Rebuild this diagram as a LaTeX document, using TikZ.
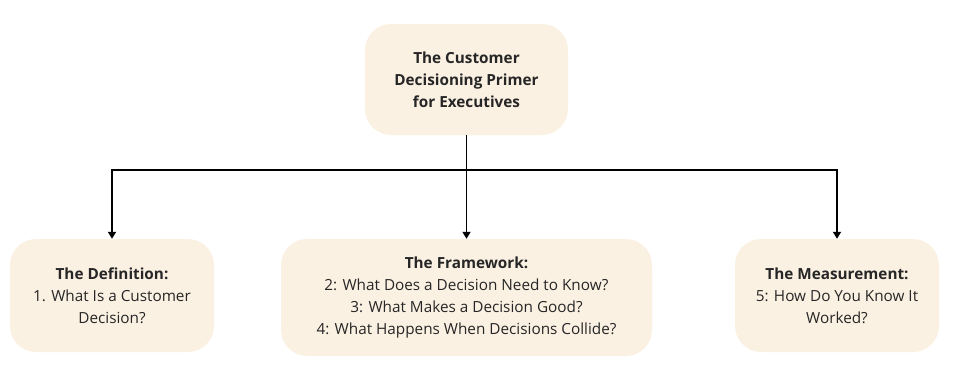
\documentclass[tikz,border=0pt]{standalone}
\usepackage{fontspec}
\setmainfont{Open Sans}
\usetikzlibrary{arrows.meta}
\definecolor{boxfill}{HTML}{FBF1E3}
\definecolor{txt}{HTML}{262626}
\begin{document}
\begin{tikzpicture}[x=1pt,y=-1pt,
  box/.style={draw=none,fill=boxfill,rounded corners=26pt,align=center,text=txt,font=\fontsize{15.3}{22}\selectfont,inner sep=0pt},
  conn/.style={line width=1.8pt,draw=black},
  arr/.style={conn,-{Triangle[length=7pt,width=8pt]}}]
\useasboundingbox (0,0) rectangle (953,370);
\node[box,minimum width=203pt,minimum height=111pt] (top) at (466.5,79.5) {\textbf{The Customer}\\\textbf{Decisioning Primer}\\\textbf{for Executives}};
\node[box,minimum width=204pt,minimum height=113pt] (def) at (112,295.5) {\textbf{The Definition:}\\1. What Is a Customer\\Decision?};
\node[box,minimum width=371pt,minimum height=117pt] (fw) at (466.5,297.5) {\textbf{The Framework:}\\2: What Does a Decision Need to Know?\\3: What Makes a Decision Good?\\4: What Happens When Decisions Collide?};
\node[box,minimum width=204pt,minimum height=113pt] (meas) at (837,295.5) {\textbf{The Measurement:}\\5: How Do You Know It\\Worked?};
\coordinate (hub) at (466.5,170);
\draw[conn] (top.south) -- (hub);
\draw[arr] (hub) -| (def.north);
\draw[arr] (hub) -| (meas.north);
\draw[arr] (hub) -- (fw.north);
\end{tikzpicture}
\end{document}
